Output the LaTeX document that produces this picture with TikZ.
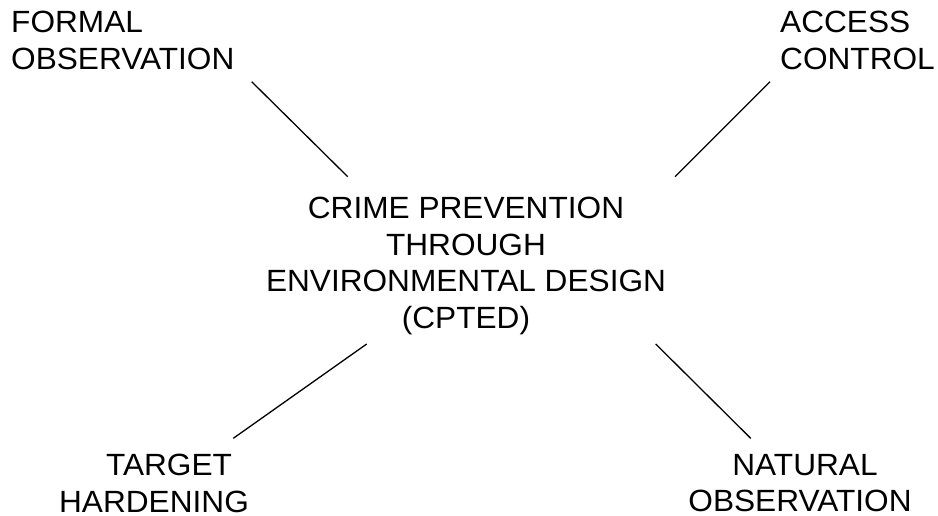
\documentclass[tikz,border=0pt]{standalone}
\usepackage{fontspec}
\setmainfont{Liberation Sans}[FakeStretch=1.03]

\begin{document}
\begin{tikzpicture}
		[x=1pt,y=-1pt,
		label/.style={inner sep=0pt, anchor=north, align=center,
			font=\fontsize{30.7}{36.5}\selectfont},
		link/.style={-,black,line width=1.3pt}]
		
		\useasboundingbox (0,0) rectangle (938,516);
		
		\node[label] (cpted) at (466,197)
		{CRIME PREVENTION\\THROUGH\\ENVIRONMENTAL DESIGN\\(CPTED)};
		
		\node[label,anchor=north west,align=left] (formal) at (11,11)
		{FORMAL\\OBSERVATION};
		\node[label,anchor=north west,align=left] (access) at (780,11)
		{ACCESS\\CONTROL};
		\node[label] (target) at (154,454)
		{\hspace*{30pt}TARGET\\HARDENING};
		\node[label] (natural) at (800,454)
		{\hspace*{10pt}NATURAL\\OBSERVATION};
		
		% line ends, near each label
		\coordinate (formal-a) at (251.7,81.7);
		\coordinate (cpted-fo) at (347.7,176.7);
		\coordinate (access-a) at (770,81.7);
		\coordinate (cpted-ac) at (675,176.7);
		\coordinate (cpted-ta) at (366.7,344);
		\coordinate (target-a) at (233.3,438.3);
		\coordinate (cpted-na) at (655.7,344);
		\coordinate (natural-a) at (750.7,438.3);
		
		\draw[link] (formal-a) -- (cpted-fo);
		\draw[link] (access-a) -- (cpted-ac);
		\draw[link] (cpted-ta) -- (target-a);
		\draw[link] (cpted-na) -- (natural-a);
		
\end{tikzpicture}
\end{document}
